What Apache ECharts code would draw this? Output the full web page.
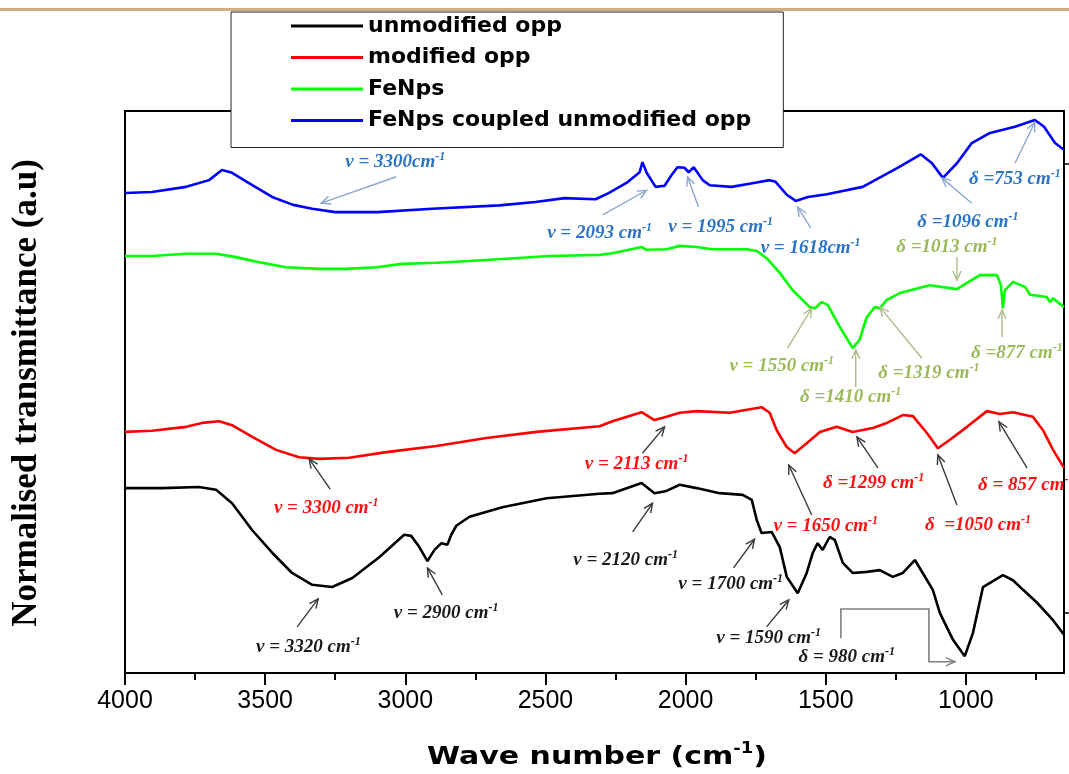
<!DOCTYPE html>
<html><head><meta charset="utf-8">
<script src="https://cdn.jsdelivr.net/npm/echarts@6/dist/echarts.min.js"></script>
<style>html,body{margin:0;padding:0;background:#fff}#c{width:1069px;height:774px}</style>
</head><body><div id="c"></div>
<script>
// ---------- data (wavenumber cm-1, normalised transmittance a.u.) ----------
const unmodWn = [4000,3868,3736,3675,3618,3546,3475,3404,3332,3261,3189,3093,3004,2979,2950,2921,2896,2871,2850,2836,2818,2771,2654,2496,2307,2261,2157,2111,2068,2021,1961,1879,1796,1764,1746,1729,1693,1664,1639,1600,1568,1546,1529,1511,1486,1468,1439,1404,1354,1307,1261,1225,1182,1154,1118,1093,1046,1004,975,939,868,832,796,746,689,650];
const unmodT  = [32.9,32.9,33.1,32.6,30.2,25.4,21.4,17.8,15.7,15.3,16.9,20.6,24.6,24.4,22.4,19.9,21.9,23.1,22.8,24.6,26.2,27.8,29.5,31.1,31.9,32.0,33.8,32.0,32.4,33.5,32.9,32.0,31.7,30.8,27.2,24.9,25.1,22.4,17.1,14.2,17.8,21.4,23.1,21.9,24.2,23.7,19.6,17.8,18.0,18.3,17.1,17.8,20.1,17.8,14.8,10.7,5.9,3.0,7.1,15.3,17.4,16.5,14.8,12.5,9.4,6.8];

const modWn = [4000,3904,3782,3725,3664,3618,3546,3461,3379,3307,3200,3068,2889,2711,2532,2307,2261,2157,2111,2068,2021,1961,1843,1729,1700,1675,1639,1611,1568,1521,1461,1404,1332,1282,1225,1189,1139,1100,1057,996,925,879,832,761,725,689,650];
const modT  = [42.9,43.1,43.8,44.5,44.8,44.1,42.0,39.7,38.4,38.1,38.3,39.3,40.4,41.8,42.9,43.9,44.8,46.4,45.0,45.6,46.3,46.6,46.3,47.3,46.3,43.2,40.2,39.1,40.9,42.9,43.8,42.9,43.6,44.5,45.9,45.7,42.7,40.0,41.5,43.8,46.6,46.1,46.4,45.6,43.2,39.7,36.5];

const feWn = [4000,3904,3782,3675,3604,3521,3425,3307,3211,3104,3011,2889,2771,2639,2486,2307,2261,2157,2139,2068,2021,1961,1904,1782,1746,1711,1664,1618,1557,1539,1514,1493,1450,1404,1379,1354,1325,1307,1282,1236,1129,1032,996,950,889,875,868,861,832,789,771,711,700,689,650];
const feT  = [74.2,74.2,74.6,74.6,74.0,73.1,72.2,71.9,71.9,72.2,72.8,73.0,73.3,73.7,74.2,74.4,74.7,75.8,75.3,75.4,76.0,75.8,75.4,75.4,75.1,73.8,71.2,68.1,65.1,64.9,66.0,65.5,61.6,57.8,59.3,63.3,65.1,64.9,66.4,67.6,69.0,68.3,69.4,70.8,70.8,69.0,64.9,68.1,69.6,68.7,67.3,66.9,66.0,66.7,65.1];

const cpWn = [4000,3904,3782,3700,3654,3618,3546,3475,3400,3332,3250,3100,2904,2664,2536,2432,2321,2275,2211,2164,2154,2139,2107,2075,2050,2029,2004,1989,1971,1939,1914,1836,1757,1700,1679,1639,1607,1564,1496,1368,1239,1161,1121,1082,1032,979,914,825,754,721,682,650];
const cpT  = [85.4,85.6,86.5,87.7,89.5,89.0,86.8,84.7,83.3,82.6,82.0,82.0,82.6,83.2,83.8,84.5,84.3,85.4,87.2,89.1,90.9,89.0,86.5,86.7,88.6,90.0,89.9,89.1,90.0,87.7,86.8,86.5,87.2,87.7,87.4,85.1,84.0,84.7,85.2,86.5,90.0,92.3,90.7,88.1,90.7,94.3,96.1,97.2,98.4,97.2,94.3,93.1];

const seriesNames = ['unmodified opp','modified opp','FeNps','FeNps coupled unmodified opp'];
const xTicks = [4000,3500,3000,2500,2000,1500,1000];
const xMinorTicks = [3750,3250,2750,2250,1750,1250,750];
const rightTicks = [90.6,10.7];

// annotations: [label, textWn, textT, arrowFromWn, arrowFromT, arrowToWn, arrowToT]
const cpNotes = [
  ['v = 3300cm', 3036, 90.9, 3032, 88.3, 3300, 83.6],
  ['v = 2093 cm', 2307, 78.3, 2296, 81.5, 2139, 85.9],
  ['v = 1995 cm', 1875, 79.4, 1954, 82.9, 1993, 88.3],
  ['v = 1618cm', 1554, 75.6, 1554, 79.2, 1600, 82.9],
  ['δ =1096 cm', 993, 80.2, 979, 83.6, 1086, 88.1],
  ['δ =753 cm', 825, 87.9, 825, 90.7, 754, 98.0]
];
const feNotes = [
  ['δ =1013 cm', 1068, 75.8, 1032, 74.0, 1032, 69.9],
  ['v = 1550 cm', 1657, 54.6, 1636, 57.8, 1550, 64.9],
  ['δ =1410 cm', 1411, 49.1, 1393, 50.9, 1393, 57.5],
  ['δ =1319 cm', 1132, 53.4, 1157, 56.0, 1307, 65.1],
  ['δ =877 cm', 818, 56.9, 871, 59.8, 871, 64.6]
];
const modNotes = [
  ['v = 3300 cm', 3282, 29.4, 3268, 32.7, 3343, 38.1],
  ['v = 2113 cm', 2175, 37.2, 2154, 39.1, 2075, 43.8],
  ['v = 1650 cm', 1500, 26.2, 1550, 28.1, 1632, 37.0],
  ['δ =1299 cm', 1329, 33.8, 1314, 36.5, 1389, 42.0],
  ['δ  =1050 cm', 957, 26.3, 1032, 29.9, 1100, 38.8],
  ['δ = 857 cm', 957, 33.5, 782, 36.5, 882, 44.7]
];
const unmodNotes = [
  ['v = 3320 cm', 3346, 4.6, 3386, 8.2, 3311, 13.2],
  ['v = 2900 cm', 2854, 10.7, 2868, 13.9, 2921, 18.7],
  ['v = 2120 cm', 2214, 20.1, 2189, 25.1, 2118, 30.2],
  ['v = 1700 cm', 1839, 15.8, 1829, 18.7, 1754, 23.8],
  ['v = 1590 cm', 1704, 6.2, 1711, 8.2, 1632, 13.0]
];
const bracketLabel = ['δ = 980 cm', 1425, 2.8];
const bracketPath = [[1446, 6.2],[1446, 11.4],[1132, 11.4],[1132, 2.0],[1039, 2.0]];

// ---------- chart ----------
const zip = (a, b) => a.map((x, i) => [x, b[i]]);
const colors = ['#000000', '#ff0000', '#00ff00', '#0000ff'];
const chart = echarts.init(document.getElementById('c'), null, {renderer: 'canvas'});

const option = {
  animation: false,
  backgroundColor: '#ffffff',
  grid: {left: 125, right: 5, top: 111, bottom: 101, show: true, borderColor: '#000', borderWidth: 2, backgroundColor: 'transparent'},
  legend: {
    data: seriesNames.map(n => ({name: n, icon: 'rect'})), orient: 'vertical', left: 231, top: 12,
    padding: [3, 32, 16, 60], itemGap: 9.5, itemWidth: 72, itemHeight: 3,
    backgroundColor: '#ffffff', borderColor: '#222', borderWidth: 1, z: 20,
    textStyle: {fontFamily: 'DejaVu Sans', fontWeight: 'bold', fontSize: 22, lineHeight: 20, color: '#000'}
  },
  xAxis: [{
    type: 'value', min: 650, max: 4000, inverse: true, position: 'bottom',
    axisLine: {show: true, onZero: false, lineStyle: {color: '#000', width: 2}},
    axisTick: {show: true, customValues: xTicks, length: 12, inside: false, lineStyle: {color: '#000', width: 2}},
    axisLabel: {customValues: xTicks, formatter: v => String(v), fontFamily: 'Liberation Sans', fontSize: 25, color: '#000', margin: 16},
    splitLine: {show: false}
  }, {
    type: 'value', min: 650, max: 4000, inverse: true, position: 'bottom',
    axisLine: {show: false, onZero: false},
    axisTick: {show: true, customValues: xMinorTicks, length: 7, lineStyle: {color: '#000', width: 2}},
    axisLabel: {show: false},
    splitLine: {show: false}
  }],
  yAxis: [{
    type: 'value', min: 0, max: 100, position: 'left',
    axisLine: {show: true, onZero: false, lineStyle: {color: '#000', width: 2}},
    axisTick: {show: false}, axisLabel: {show: false}, splitLine: {show: false}
  }, {
    type: 'value', min: 0, max: 100, position: 'right',
    axisLine: {show: true, onZero: false, lineStyle: {color: '#000', width: 2}},
    axisTick: {show: true, customValues: rightTicks, length: 6, lineStyle: {color: '#000', width: 1.5}},
    axisLabel: {show: false}, splitLine: {show: false}
  }],
  series: [
    [unmodWn, unmodT], [modWn, modT], [feWn, feT], [cpWn, cpT]
  ].map((d, i) => ({
    name: seriesNames[i], type: 'line', xAxisIndex: 0, yAxisIndex: 0,
    data: zip(d[0], d[1]), symbol: 'none', showSymbol: false, smooth: false,
    lineStyle: {color: colors[i], width: 2.6}, itemStyle: {color: colors[i]}, z: 3
  }))
};
chart.setOption(option);

// ---------- annotations (positions converted through the axes) ----------
const toPx = (w, v) => chart.convertToPixel({xAxisIndex: 0, yAxisIndex: 0}, [w, v]);
const serif = '"Liberation Serif", "Times New Roman", serif';
function label(t, p, color, align) {
  return {
    type: 'text', x: p[0], y: p[1], z: 30,
    style: {
      text: '{a|' + t + '}{s|-1}', align: align || 'center', verticalAlign: 'middle',
      rich: {
        a: {fontFamily: serif, fontStyle: 'italic', fontWeight: 'bold', fontSize: 19, fill: color, lineHeight: 22},
        s: {fontFamily: serif, fontStyle: 'italic', fontWeight: 'bold', fontSize: 12, fill: color, verticalAlign: 'top', lineHeight: 14}
      }
    }
  };
}
function arrowHead(a, b, color) {
  const ang = Math.atan2(b[1] - a[1], b[0] - a[0]), L = 10, f = 0.42;
  const h1 = [b[0] - L * Math.cos(ang - f), b[1] - L * Math.sin(ang - f)];
  const h2 = [b[0] - L * Math.cos(ang + f), b[1] - L * Math.sin(ang + f)];
  return {type: 'polyline', z: 29, shape: {points: [h1, b, h2]}, style: {stroke: color, lineWidth: 1.4, fill: null}};
}
function arrow(a, b, color) {
  return [{type: 'line', z: 29, shape: {x1: a[0], y1: a[1], x2: b[0], y2: b[1]}, style: {stroke: color, lineWidth: 1.4}}, arrowHead(a, b, color)];
}
const groups = [
  [cpNotes, '#2b74c6', '#8aa7cf'],
  [feNotes, '#9bbb59', '#abbb88'],
  [modNotes, '#ff1010', '#3a3a3a'],
  [unmodNotes, '#1a1a1a', '#3a3a3a']
];
const graphics = [];
graphics.push({type: 'rect', z: 50, shape: {x: 0, y: 8, width: 1069, height: 3}, style: {fill: '#cfae86'}});
groups.forEach(([notes, tc, ac]) => {
  notes.forEach((n, idx) => {
    const alignLeft = (notes === modNotes && idx === 5);
    graphics.push(label(n[0], toPx(n[1], n[2]), tc, alignLeft ? 'left' : 'center'));
    graphics.push(...arrow(toPx(n[3], n[4]), toPx(n[5], n[6]), ac));
  });
});
graphics.push(label(bracketLabel[0], toPx(bracketLabel[1], bracketLabel[2]), '#1a1a1a'));
const bp = bracketPath.map(p => toPx(p[0], p[1]));
graphics.push({type: 'polyline', z: 29, shape: {points: bp}, style: {stroke: '#808080', lineWidth: 1.6, fill: null}});
graphics.push(arrowHead(bp[bp.length - 2], bp[bp.length - 1], '#808080'));

// axis titles
graphics.push({
  type: 'text', x: 597, y: 757, scaleX: 1.2, z: 30,
  style: {
    text: '{a|Wave number (cm}{s|-1}{a|)}', align: 'center', verticalAlign: 'middle',
    rich: {
      a: {fontFamily: 'DejaVu Sans', fontWeight: 'bold', fontSize: 25, fill: '#000', lineHeight: 30},
      s: {fontFamily: 'DejaVu Sans', fontWeight: 'bold', fontSize: 15, fill: '#000', verticalAlign: 'top', lineHeight: 16}
    }
  }
});
graphics.push({
  type: 'text', x: 27, y: 393, rotation: Math.PI / 2, z: 30,
  style: {text: 'Normalised transmittance (a.u)', font: 'bold 35px "Liberation Serif"', fill: '#000', align: 'center', verticalAlign: 'middle'}
});
chart.setOption({graphic: graphics});
</script></body></html>
